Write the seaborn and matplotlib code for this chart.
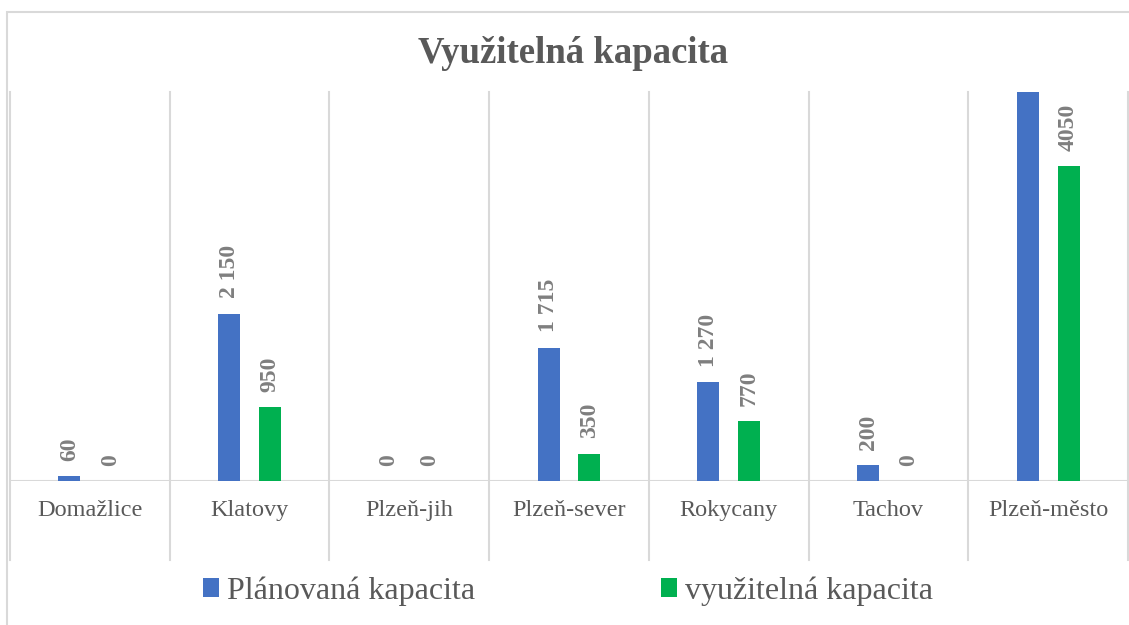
import matplotlib
matplotlib.use('Agg')
import matplotlib.pyplot as plt
from matplotlib.patches import Patch, Rectangle
import numpy as np
import pandas as pd
import seaborn as sns

# Data
okresy = ['Domažlice', 'Klatovy', 'Plzeň-jih', 'Plzeň-sever', 'Rokycany', 'Tachov', 'Plzeň-město']
planovana = [60, 2150, 0, 1715, 1270, 200, 5300]   # last bar runs off the top, value estimated
vyuzitelna = [0, 950, 0, 350, 770, 0, 4050]
planovana_labels = ['60', '2 150', '0', '1 715', '1 270', '200', '']
vyuzitelna_labels = ['0', '950', '0', '350', '770', '0', '4050']
series = ['Plánovaná kapacita', 'využitelná kapacita']

BLUE = '#4472C4'
GREEN = '#00B050'
GRID = '#D9D9D9'
TEXT = '#595959'
LABEL = '#7F7F7F'

df = pd.DataFrame({
    'okres': okresy * 2,
    'typ': [series[0]] * len(okresy) + [series[1]] * len(okresy),
    'hodnota': planovana + vyuzitelna,
})

plt.rcParams['font.family'] = ['Liberation Serif', 'DejaVu Serif']

W, H = 1129, 625
fig = plt.figure(figsize=(W / 100, H / 100), dpi=100)
ax = fig.add_axes([10 / W, 144 / H, 1118 / W, 389 / H])

sns.barplot(data=df, x='okres', y='hodnota', hue='typ', hue_order=series,
            palette=[BLUE, GREEN], width=0.51, gap=0.46, saturation=1,
            errorbar=None, linewidth=0, legend=False, ax=ax)

ax.set_xlim(-0.5, len(okresy) - 0.5)
ax.set_ylim(0, 5000)

# data labels
for cont, labs in zip(ax.containers, [planovana_labels, vyuzitelna_labels]):
    ax.bar_label(cont, labels=labs, rotation=90, padding=11, fontsize=17,
                 fontweight='bold', color=LABEL)

# grid / table look
for sp in ax.spines.values():
    sp.set_visible(False)
ax.set_yticks([])
ax.set_xlabel('')
ax.set_ylabel('')
ax.tick_params(axis='x', length=0, pad=13.5, labelsize=17.5, labelcolor=TEXT)
ax.axhline(0, color=GRID, lw=1.5, zorder=0)
for b in np.arange(-0.5, len(okresy), 1):
    ax.axvline(b, ymin=-79 / 389, ymax=1, color=GRID, lw=1.5, clip_on=False, zorder=0)

# chart border
fig.add_artist(Rectangle((7 / W, -0.05), 1.1, 1 - 12 / H + 0.05, transform=fig.transFigure,
                         fill=False, edgecolor=GRID, lw=1.5))

fig.text(573 / W, 1 - 63 / H, 'Využitelná kapacita', ha='center', va='baseline',
         fontsize=26.5, fontweight='bold', color=TEXT)

handles = [Patch(facecolor=BLUE, label=series[0]), Patch(facecolor=GREEN, label=series[1])]
fig.legend(handles=handles, loc='center', bbox_to_anchor=(568 / W, 34 / H), ncol=2,
           frameon=False, fontsize=23, labelcolor=TEXT, handlelength=0.5, handleheight=0.5,
           handletextpad=0.25, columnspacing=5.8)

fig.savefig('out.png', dpi=100)
